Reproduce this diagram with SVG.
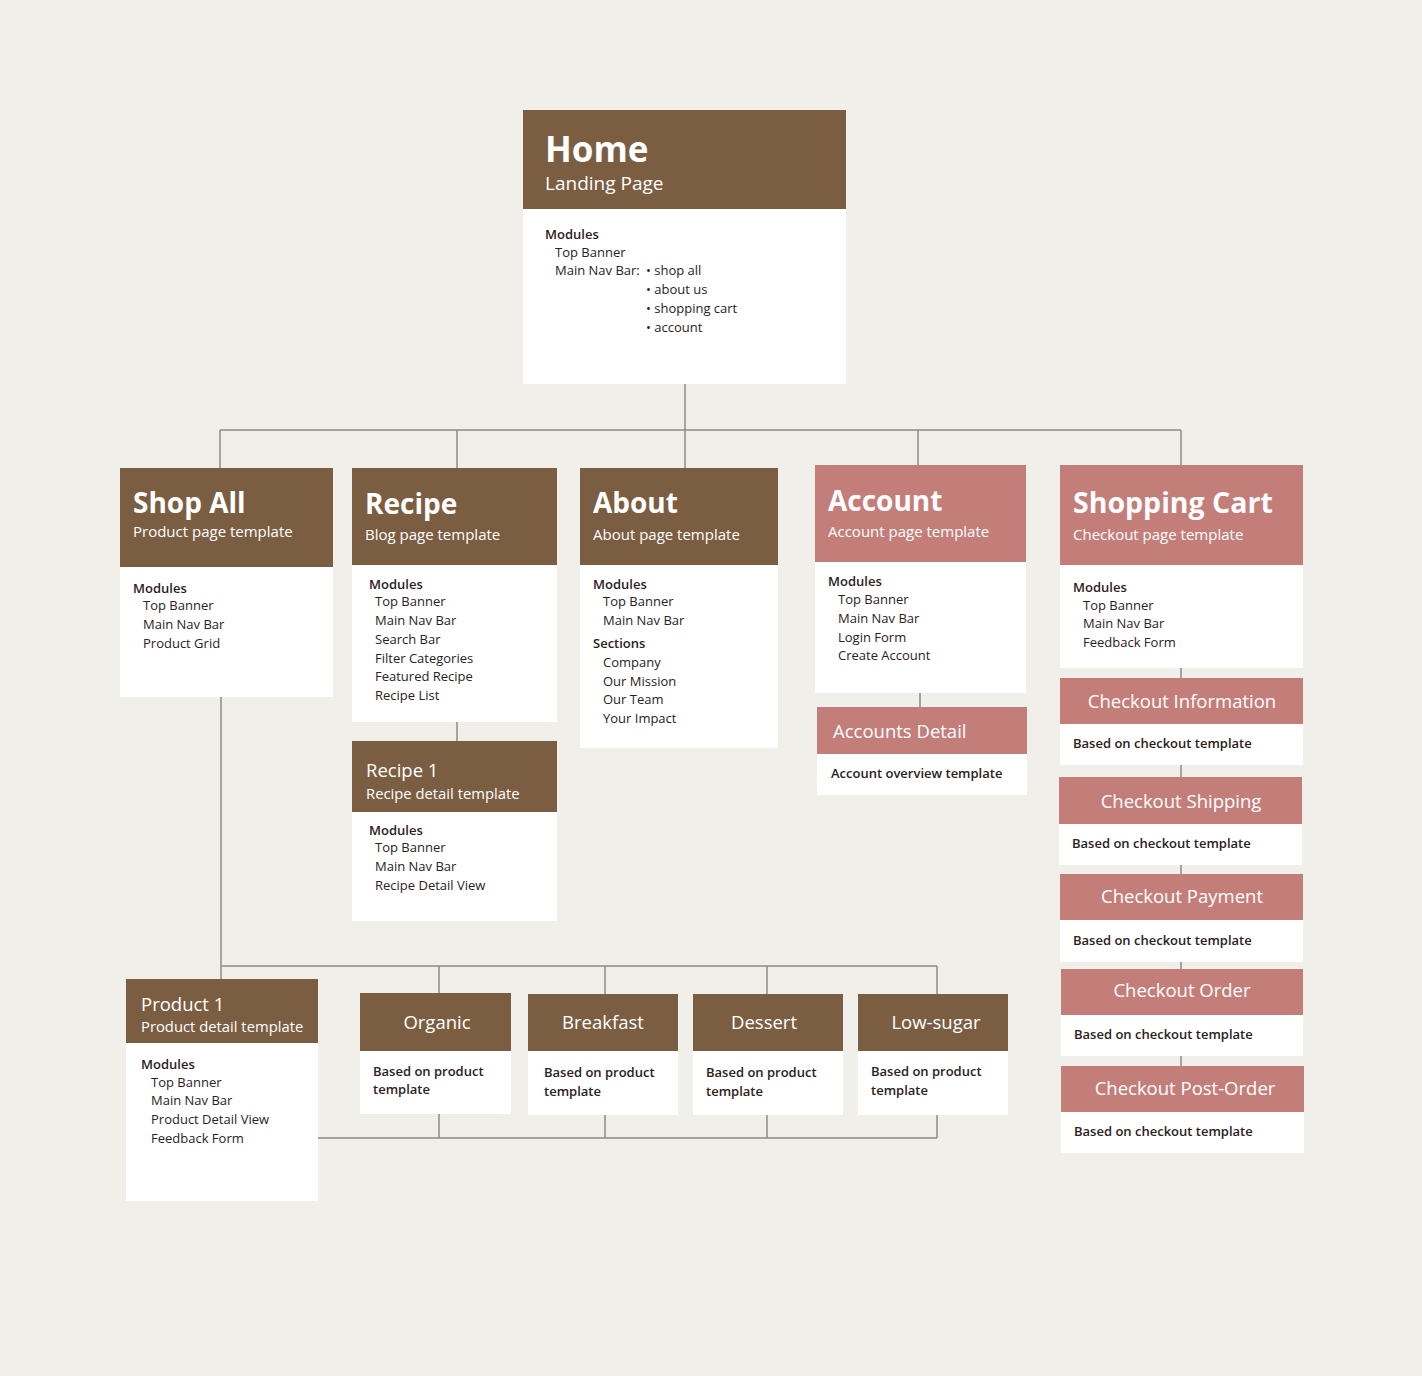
<svg xmlns="http://www.w3.org/2000/svg" width="1422" height="1376" viewBox="0 0 1422 1376">
<style>
text{font-family:"Open Sans","Liberation Sans",sans-serif;}
.bg{fill:#F0EFEA}
.body{fill:#FFFFFF}
.br{fill:#7B5E42}
.pk{fill:#C47E7A}
.t1{fill:#FFFFFF;font-weight:700;font-size:28px}
.t2{fill:#FFFFFF;font-weight:500;font-size:18.5px}
.sub{fill:#FFFFFF;font-size:15px}
.lbl{fill:#2A221C;font-size:13px}
.mod{fill:#2A221C;font-size:13px;font-weight:600}
.bt{fill:#2A221C;font-size:13px;font-weight:600}
.c{text-anchor:middle}
.ln{fill:none;stroke:#8C8C8C;stroke-width:1.5}
</style>
<rect class="bg" x="0" y="0" width="1422" height="1376"/>

<g id="connectors">
<path class="ln" d="M685 384V430M220 430H1181M220 430V468M457 430V468M685 430V468M918 430V465M1181 430V465"/>
<path class="ln" d="M457 722V741M920 693V707M1181 668V678M1181 765V777M1181 865V874M1181 962V969M1181 1056V1066"/>
<path class="ln" d="M221 697V979M221 966H937M439 966V994M605 966V994M767 966V994M937 966V994"/>
<path class="ln" d="M318 1138H937M439 1114V1138M605 1114V1138M767 1114V1138M937 1114V1138"/>
</g>

<g id="home">
<rect class="body" x="523" y="110" width="323" height="274"/>
<rect class="br" x="523" y="110" width="323" height="99"/>
<text x="545" y="162" style="fill:#fff;font-weight:700;font-size:35px">Home</text>
<text x="545" y="190" style="fill:#fff;font-size:19px">Landing Page</text>
<text class="mod" x="545" y="239">Modules</text>
<text class="lbl" x="555" y="256.5">Top Banner</text>
<text class="lbl" x="555" y="275">Main Nav Bar:</text>
<text class="lbl" x="646" y="275">• shop all</text>
<text class="lbl" x="646" y="294">• about us</text>
<text class="lbl" x="646" y="313">• shopping cart</text>
<text class="lbl" x="646" y="331.5">• account</text>
</g>

<g id="shop-all">
<rect class="body" x="120" y="468" width="213" height="229"/>
<rect class="br" x="120" y="468" width="213" height="99"/>
<text class="t1" x="133" y="513">Shop All</text>
<text class="sub" x="133" y="537">Product page template</text>
<text class="mod" x="133" y="592.5">Modules</text>
<text class="lbl" x="143" y="609.5">Top Banner</text>
<text class="lbl" x="143" y="628.5">Main Nav Bar</text>
<text class="lbl" x="143" y="647.5">Product Grid</text>
</g>

<g id="recipe">
<rect class="body" x="352" y="468" width="205" height="254"/>
<rect class="br" x="352" y="468" width="205" height="97"/>
<text class="t1" x="365" y="514">Recipe</text>
<text class="sub" x="365" y="540">Blog page template</text>
<text class="mod" x="369" y="588.5">Modules</text>
<text class="lbl" x="375" y="605.5">Top Banner</text>
<text class="lbl" x="375" y="624.5">Main Nav Bar</text>
<text class="lbl" x="375" y="643.5">Search Bar</text>
<text class="lbl" x="375" y="662.5">Filter Categories</text>
<text class="lbl" x="375" y="680.5">Featured Recipe</text>
<text class="lbl" x="375" y="699.5">Recipe List</text>
</g>

<g id="recipe-1">
<rect class="body" x="352" y="741" width="205" height="180"/>
<rect class="br" x="352" y="741" width="205" height="71"/>
<text class="t2" x="366" y="777">Recipe 1</text>
<text class="sub" x="366" y="799" style="font-size:14.8px">Recipe detail template</text>
<text class="mod" x="369" y="834.5">Modules</text>
<text class="lbl" x="375" y="851.5">Top Banner</text>
<text class="lbl" x="375" y="870.5">Main Nav Bar</text>
<text class="lbl" x="375" y="889.5">Recipe Detail View</text>
</g>

<g id="about">
<rect class="body" x="580" y="468" width="198" height="280"/>
<rect class="br" x="580" y="468" width="198" height="97"/>
<text class="t1" x="593" y="513">About</text>
<text class="sub" x="593" y="540">About page template</text>
<text class="mod" x="593" y="588.5">Modules</text>
<text class="lbl" x="603" y="605.5">Top Banner</text>
<text class="lbl" x="603" y="624.5">Main Nav Bar</text>
<text class="mod" x="593" y="647.5">Sections</text>
<text class="lbl" x="603" y="666.5">Company</text>
<text class="lbl" x="603" y="685.5">Our Mission</text>
<text class="lbl" x="603" y="703.5">Our Team</text>
<text class="lbl" x="603" y="722.5">Your Impact</text>
</g>

<g id="account">
<rect class="body" x="815" y="465" width="211" height="228"/>
<rect class="pk" x="815" y="465" width="211" height="97"/>
<text class="t1" x="828" y="511">Account</text>
<text class="sub" x="828" y="537">Account page template</text>
<text class="mod" x="828" y="585.5">Modules</text>
<text class="lbl" x="838" y="603.5">Top Banner</text>
<text class="lbl" x="838" y="622.5">Main Nav Bar</text>
<text class="lbl" x="838" y="641.5">Login Form</text>
<text class="lbl" x="838" y="659.5">Create Account</text>
</g>

<g id="accounts-detail">
<rect class="body" x="817" y="707" width="210" height="88"/>
<rect class="pk" x="817" y="707" width="210" height="47"/>
<text class="t2" x="833" y="737.5">Accounts Detail</text>
<text class="bt" x="831" y="777.5">Account overview template</text>
</g>

<g id="shopping-cart">
<rect class="body" x="1060" y="465" width="243" height="203"/>
<rect class="pk" x="1060" y="465" width="243" height="100"/>
<text class="t1" x="1073" y="513" style="font-size:28.5px">Shopping Cart</text>
<text class="sub" x="1073" y="540">Checkout page template</text>
<text class="mod" x="1073" y="591.5">Modules</text>
<text class="lbl" x="1083" y="609.5">Top Banner</text>
<text class="lbl" x="1083" y="627.5">Main Nav Bar</text>
<text class="lbl" x="1083" y="646.5">Feedback Form</text>
</g>

<g id="checkout-information">
<rect class="body" x="1060" y="678" width="243" height="87"/>
<rect class="pk" x="1060" y="678" width="243" height="46"/>
<text class="t2 c" x="1182" y="707.5">Checkout Information</text>
<text class="bt" x="1073" y="747.5">Based on checkout template</text>
</g>

<g id="checkout-shipping">
<rect class="body" x="1059" y="777" width="243" height="88"/>
<rect class="pk" x="1059" y="777" width="243" height="47"/>
<text class="t2 c" x="1181" y="807.5">Checkout Shipping</text>
<text class="bt" x="1072" y="847.5">Based on checkout template</text>
</g>

<g id="checkout-payment">
<rect class="body" x="1060" y="874" width="243" height="88"/>
<rect class="pk" x="1060" y="874" width="243" height="46"/>
<text class="t2 c" x="1182" y="902.5">Checkout Payment</text>
<text class="bt" x="1073" y="944.5">Based on checkout template</text>
</g>

<g id="checkout-order">
<rect class="body" x="1061" y="969" width="242" height="87"/>
<rect class="pk" x="1061" y="969" width="242" height="46"/>
<text class="t2 c" x="1182" y="996.5">Checkout Order</text>
<text class="bt" x="1074" y="1038.5">Based on checkout template</text>
</g>

<g id="checkout-post-order">
<rect class="body" x="1061" y="1066" width="243" height="87"/>
<rect class="pk" x="1061" y="1066" width="243" height="46"/>
<text class="t2 c" x="1185" y="1094.5">Checkout Post-Order</text>
<text class="bt" x="1074" y="1135.5">Based on checkout template</text>
</g>

<g id="product-1">
<rect class="body" x="126" y="979" width="192" height="222"/>
<rect class="br" x="126" y="979" width="192" height="64"/>
<text class="t2" x="141" y="1011">Product 1</text>
<text class="sub" x="141" y="1032" style="font-size:14.8px">Product detail template</text>
<text class="mod" x="141" y="1068.5">Modules</text>
<text class="lbl" x="151" y="1086.5">Top Banner</text>
<text class="lbl" x="151" y="1104.5">Main Nav Bar</text>
<text class="lbl" x="151" y="1123.5">Product Detail View</text>
<text class="lbl" x="151" y="1142.5">Feedback Form</text>
</g>

<g id="organic">
<rect class="body" x="360" y="993" width="151" height="121"/>
<rect class="br" x="360" y="993" width="151" height="58"/>
<text class="t2 c" x="437" y="1028.5">Organic</text>
<text class="bt" x="373" y="1075.5">Based on product</text>
<text class="bt" x="373" y="1093.5">template</text>
</g>

<g id="breakfast">
<rect class="body" x="528" y="994" width="150" height="121"/>
<rect class="br" x="528" y="994" width="150" height="57"/>
<text class="t2 c" x="603" y="1028.5">Breakfast</text>
<text class="bt" x="544" y="1076.5">Based on product</text>
<text class="bt" x="544" y="1095.5">template</text>
</g>

<g id="dessert">
<rect class="body" x="693" y="994" width="150" height="121"/>
<rect class="br" x="693" y="994" width="150" height="57"/>
<text class="t2 c" x="764" y="1028.5">Dessert</text>
<text class="bt" x="706" y="1076.5">Based on product</text>
<text class="bt" x="706" y="1095.5">template</text>
</g>

<g id="low-sugar">
<rect class="body" x="858" y="994" width="150" height="121"/>
<rect class="br" x="858" y="994" width="150" height="57"/>
<text class="t2 c" x="936" y="1028.5">Low-sugar</text>
<text class="bt" x="871" y="1075.5">Based on product</text>
<text class="bt" x="871" y="1094.5">template</text>
</g>
</svg>
